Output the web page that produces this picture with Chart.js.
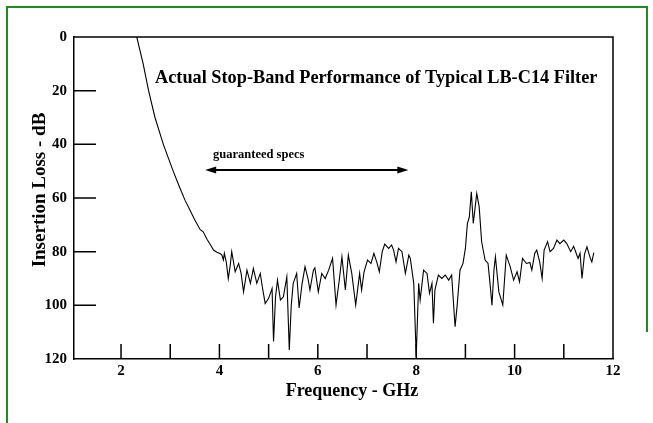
<!DOCTYPE html>
<html>
<head>
<meta charset="utf-8">
<script src="https://cdn.jsdelivr.net/npm/chart.js@4.4.0/dist/chart.umd.min.js"></script>
<style>
  html, body { margin: 0; padding: 0; background: #fff; }
  #wrap { position: relative; width: 653px; height: 423px; }
</style>
</head>
<body>
<div id="wrap"><canvas id="stopBandChart" width="653" height="423"></canvas></div>
<script>
// measured trace, frequency in GHz and insertion loss in dB
const freqGHz = [
  2.32, 2.45, 2.56, 2.69, 2.86, 3.06, 3.18, 3.30, 3.40, 3.50, 3.61, 3.67, 3.75, 3.82, 3.88, 3.95,
  4.02, 4.05, 4.08, 4.10, 4.14, 4.18, 4.22, 4.25, 4.32, 4.39, 4.44, 4.49, 4.56, 4.63, 4.69, 4.76,
  4.83, 4.88, 4.93, 5.00, 5.07, 5.10, 5.14, 5.18, 5.24, 5.30, 5.37, 5.42, 5.46, 5.50, 5.57, 5.62,
  5.68, 5.74, 5.80, 5.84, 5.91, 5.94, 6.01, 6.08, 6.15, 6.22, 6.30, 6.37, 6.44, 6.49, 6.56, 6.62,
  6.69, 6.77, 6.85, 6.89, 6.94, 7.01, 7.08, 7.14, 7.20, 7.25, 7.31, 7.36, 7.44, 7.50, 7.54, 7.59,
  7.64, 7.71, 7.78, 7.85, 7.88, 7.95, 8.00, 8.05, 8.08, 8.15, 8.22, 8.27, 8.32, 8.35, 8.38, 8.45,
  8.52, 8.59, 8.66, 8.72, 8.79, 8.83, 8.89, 8.95, 9.00, 9.04, 9.08, 9.12, 9.16, 9.23, 9.28, 9.33,
  9.40, 9.46, 9.50, 9.54, 9.58, 9.61, 9.68, 9.76, 9.83, 9.91, 9.98, 10.05, 10.10, 10.16, 10.24, 10.31,
  10.35, 10.41, 10.45, 10.51, 10.56, 10.60, 10.67, 10.72, 10.79, 10.86, 10.92, 11.00, 11.06, 11.14, 11.20, 11.29,
  11.33, 11.37, 11.42, 11.47, 11.54, 11.57, 11.61
];
const lossDB = [
  0, 10, 20, 30, 40, 50, 55.5, 60.8, 64.5, 68.2, 71.8, 72.6, 75.5, 77.5, 79.4, 80.2,
  80.8, 81.3, 83.1, 80.6, 84, 90, 85, 80, 87.5, 84.4, 88, 95, 86.9, 91.8, 86.2, 91.8,
  88.1, 94, 99.3, 97.4, 93.7, 113.5, 97, 90.6, 98, 96.8, 89.4, 116.6, 100, 91.8, 88.1, 101,
  92, 85.6, 90, 94.3, 86.9, 86, 95, 88.1, 90, 86.9, 82.5, 99.9, 90, 81.9, 94.3, 81.3,
  88.1, 99.9, 88.1, 94.3, 87.5, 83.1, 84.4, 80.6, 84, 87.5, 80, 77.2, 78.8, 77.5, 79.4, 83.8,
  78.8, 80, 88.1, 81.3, 82.5, 91.8, 119, 91.8, 98, 86.9, 88.1, 95.5, 91.8, 106.7, 94.3, 88.7,
  90, 88.7, 90.6, 88.7, 108, 100.5, 86.9, 84.4, 78.8, 69.5, 67, 57.7, 69.5, 58.3, 63.3, 76.3,
  83.1, 84.4, 91.8, 100, 86.9, 81.9, 95, 99.9, 81.3, 85.6, 90.6, 87.5, 91.2, 82.5, 84.4, 84,
  86.9, 80.6, 79.4, 83.8, 90, 79.4, 76.3, 80, 78.8, 75.7, 77, 75.7, 77, 80, 78, 82.5,
  80.6, 90, 81, 78.2, 82.5, 83.8, 80.4
];

const xTicks = [2, 3, 4, 5, 6, 7, 8, 9, 10, 11, 12];
const yTicks = [0, 20, 40, 60, 80, 100, 120];
const specRange = [3.71, 7.84];   // guaranteed specs arrow, GHz
const specLevel = 49.6;           // dB

const serif = '"Liberation Serif", "Times New Roman", serif';
const green = '#1e8c1e';

const decorations = {
  id: 'decorations',
  beforeDraw(chart) {
    const c = chart.ctx;
    c.save();
    c.fillStyle = '#fff';
    c.fillRect(0, 0, chart.width, chart.height);
    c.fillStyle = green;
    c.fillRect(6, 6, 2, chart.height - 6);
    c.fillRect(6, 6, 642, 2);
    c.fillRect(646, 6, 2, 326);
    c.restore();
  },
  afterDraw(chart) {
    const c = chart.ctx;
    const xs = chart.scales.x, ys = chart.scales.y;
    const a = chart.chartArea;
    c.save();
    c.strokeStyle = '#000';
    c.fillStyle = '#000';
    c.lineWidth = 1.5;

    // top and right edges of the frame
    c.beginPath();
    c.moveTo(a.left, a.top); c.lineTo(a.right, a.top); c.lineTo(a.right, a.bottom);
    c.stroke();

    // inward ticks
    c.beginPath();
    xTicks.slice(0, -1).forEach(v => {
      const px = xs.getPixelForValue(v);
      c.moveTo(px, a.bottom); c.lineTo(px, a.bottom - 15);
    });
    yTicks.slice(1, -1).forEach(v => {
      const py = ys.getPixelForValue(v);
      c.moveTo(a.left, py); c.lineTo(a.left + 22, py);
    });
    c.stroke();

    // guaranteed specs double arrow
    const x1 = xs.getPixelForValue(specRange[0]);
    const x2 = xs.getPixelForValue(specRange[1]);
    const y = ys.getPixelForValue(specLevel);
    c.lineWidth = 2;
    c.beginPath();
    c.moveTo(x1 + 8, y); c.lineTo(x2 - 8, y);
    c.stroke();
    c.beginPath();
    c.moveTo(x1, y); c.lineTo(x1 + 11, y - 3.5); c.lineTo(x1 + 11, y + 3.5); c.closePath();
    c.moveTo(x2, y); c.lineTo(x2 - 11, y - 3.5); c.lineTo(x2 - 11, y + 3.5); c.closePath();
    c.fill();

    c.font = 'bold 12.5px ' + serif;
    c.textBaseline = 'middle';
    c.textAlign = 'left';
    c.fillText('guaranteed specs', xs.getPixelForValue(3.87), ys.getPixelForValue(44));

    c.font = 'bold 18.3px ' + serif;
    c.fillText('Actual Stop-Band Performance of Typical LB-C14 Filter',
      xs.getPixelForValue(2.69), ys.getPixelForValue(15.3));

    // axis titles
    c.font = 'bold 18px ' + serif;
    c.textAlign = 'center';
    c.fillText('Frequency - GHz', 352, 391);
    c.save();
    c.translate(40, 190);
    c.rotate(-Math.PI / 2);
    c.font = 'bold 19px ' + serif;
    c.fillText('Insertion Loss - dB', 0, 0);
    c.restore();
    c.restore();
  }
};

new Chart(document.getElementById('stopBandChart'), {
  type: 'line',
  data: {
    datasets: [{
      data: freqGHz.map((f, i) => ({ x: f, y: lossDB[i] })),
      borderColor: '#000',
      borderWidth: 1.1,
      pointRadius: 0,
      tension: 0,
      fill: false
    }]
  },
  options: {
    responsive: false,
    animation: false,
    events: [],
    layout: { padding: { top: 37, right: 40, left: 0, bottom: 0 } },
    plugins: { legend: { display: false }, tooltip: { enabled: false } },
    scales: {
      x: {
        type: 'linear',
        min: 1.044,
        max: 12,
        afterBuildTicks: s => { s.ticks = xTicks.map(v => ({ value: v })); },
        afterFit: s => { s.height = 64; },
        grid: { display: false, drawTicks: false },
        border: { display: true, color: '#000', width: 1.5 },
        ticks: {
          color: '#000',
          padding: 3,
          maxRotation: 0,
          autoSkip: false,
          font: { family: serif, size: 15, weight: 'bold' },
          callback: v => (v % 2 === 0 ? v : '')
        }
      },
      y: {
        type: 'linear',
        reverse: true,
        min: 0,
        max: 120,
        afterBuildTicks: s => { s.ticks = yTicks.map(v => ({ value: v })); },
        afterFit: s => { s.width = 74; },
        grid: { display: false, drawTicks: false },
        border: { display: true, color: '#000', width: 1.5 },
        ticks: {
          color: '#000',
          padding: 7,
          font: { family: serif, size: 15, weight: 'bold' }
        }
      }
    }
  },
  plugins: [decorations]
});
</script>
</body>
</html>
